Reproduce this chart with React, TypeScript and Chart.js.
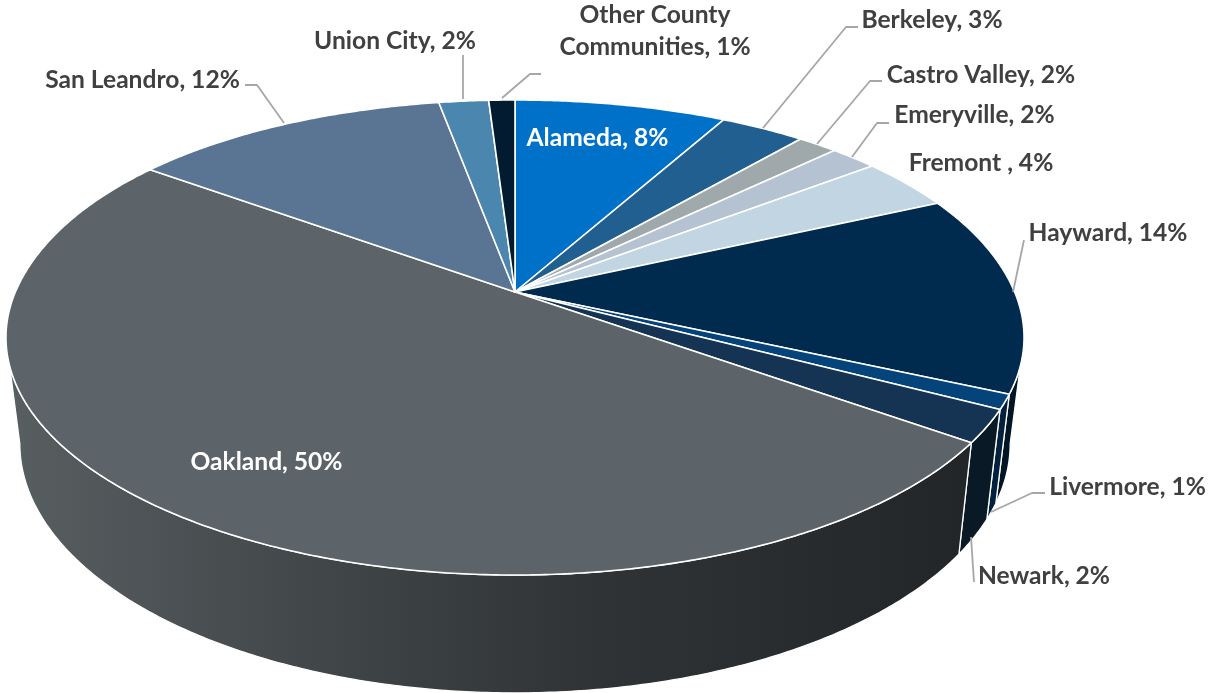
import React, { useEffect, useRef } from "react";
import { Chart, registerables } from "chart.js";

Chart.register(...registerables);

// ---- data ----
const categories = [
  "Alameda", "Berkeley", "Castro Valley", "Emeryville", "Fremont ", "Hayward",
  "Livermore", "Newark", "Oakland", "San Leandro", "Union City", "Other County Communities",
];
const shares = [8.07, 3.2, 1.5, 1.8, 3.6, 13.6, 1.0, 2.2, 50.15, 12.05, 1.9, 1.0];
const shownPercents = ["8%", "3%", "2%", "2%", "4%", "14%", "1%", "2%", "50%", "12%", "2%", "1%"];
const topColors = [
  "#0071C8", "#215F91", "#9FA8AB", "#B5C2D2", "#C2D5E2", "#002A4E",
  "#04447A", "#153352", "#5D6469", "#5A7493", "#4A86AE", "#021B30",
];
const wallColors = [
  "#00508F", "#174468", "#6F777A", "#7F8996", "#8A98A2", "#021525",
  "#03213F", "#091A26", "", "#40536A", "#34607D", "#01121F",
];

// ---- styling / layout ----
const W = 1208;
const H = 693;
const FONT = 'bold 24.6px Lato, "Noto Sans", sans-serif';
const TEXT = "#404040";
const LEADER = "#A6A6A6";
const P = 0.1916;
const CX = 515;
const TOP = { cy: 292, a: 499.6, b: 228.8, bulge: 0.009 };
const BOTTOM = { cy: 396, a: 486, b: 240, bulge: 0 };

// [centre x, centre y, colour] per category
const labelSpots: [number, number, string][] = [
  [597.5, 138, "#FFFFFF"], [932, 20, TEXT], [981, 75, TEXT], [974.5, 115, TEXT],
  [981, 163, TEXT], [1108, 233, TEXT], [1127.5, 487, TEXT], [1044, 576, TEXT],
  [266.5, 462, "#FFFFFF"], [142.5, 80, TEXT], [395, 41, TEXT], [655, 31, TEXT],
];
const leaders: number[][][] = [
  [], [[763, 128], [846, 27], [858, 27]], [[817, 144], [870, 81], [882, 81]],
  [[852, 157], [877, 123], [889, 123]], [], [[1013, 292], [1024, 240]],
  [[991, 512], [1032, 493], [1045, 493]], [[971, 537], [974, 582]], [],
  [[284, 123], [257, 85], [245, 85]], [[463, 99], [463, 55]], [[502, 98], [530, 74], [541, 74]],
];

type Disc = { cy: number; a: number; b: number; bulge: number };
const project = (d: Disc, ang: number): [number, number] => {
  const s2 = Math.sin(2 * ang);
  const r = Math.sin(ang) < 0 ? 1 + d.bulge * s2 * s2 : 1;
  const u = r * Math.cos(ang);
  const v = r * Math.sin(ang);
  const w = 1 - P * v;
  return [CX + (d.a * u) / w, d.cy + (d.b * v) / w];
};
const STEP = Math.PI / 360;
const arcPoints = (d: Disc, from: number, to: number) => {
  const pts: [number, number][] = [];
  const n = Math.max(1, Math.ceil((to - from) / STEP));
  for (let i = 0; i <= n; i++) pts.push(project(d, from + ((to - from) * i) / n));
  return pts;
};

const pie3d = {
  id: "pie3d",
  beforeDatasetsDraw(chart: any) {
    const ctx: CanvasRenderingContext2D = chart.ctx;
    const arcs = chart.getDatasetMeta(0).data;
    ctx.save();
    ctx.lineJoin = "round";

    // side walls, only the part facing the viewer
    const visFrom = Math.asin(P);
    const visTo = Math.PI - visFrom;
    const sheet = ctx.createLinearGradient(6, 0, 960, 0);
    sheet.addColorStop(0, "#585F61");
    sheet.addColorStop(0.3, "#43484B");
    sheet.addColorStop(0.6, "#303436");
    sheet.addColorStop(1, "#232628");
    arcs.forEach((arc: any, i: number) => {
      const spans = [
        [arc.startAngle, arc.endAngle],
        [arc.startAngle - 2 * Math.PI, arc.endAngle - 2 * Math.PI],
      ];
      spans.forEach(([s, e]) => {
        const from = Math.max(s, visFrom);
        const to = Math.min(e, visTo);
        if (to <= from) return;
        const a = arcPoints(TOP, from, to);
        const b = arcPoints(BOTTOM, from, to).reverse();
        ctx.beginPath();
        [...a, ...b].forEach(([x, y], k) => (k ? ctx.lineTo(x, y) : ctx.moveTo(x, y)));
        ctx.closePath();
        ctx.fillStyle = wallColors[i] || sheet;
        ctx.fill();
        ctx.strokeStyle = "#FFFFFF";
        ctx.lineWidth = 1.3;
        ctx.stroke();
      });
    });

    // top face
    arcs.forEach((arc: any, i: number) => {
      ctx.beginPath();
      ctx.moveTo(CX, TOP.cy);
      arcPoints(TOP, arc.startAngle, arc.endAngle).forEach(([x, y]) => ctx.lineTo(x, y));
      ctx.closePath();
      ctx.fillStyle = topColors[i];
      ctx.fill();
      ctx.strokeStyle = "#FFFFFF";
      ctx.lineWidth = 1.6;
      ctx.stroke();
    });

    // leader lines
    ctx.strokeStyle = LEADER;
    ctx.lineWidth = 1.8;
    leaders.forEach((line) => {
      if (!line.length) return;
      ctx.beginPath();
      line.forEach(([x, y], k) => (k ? ctx.lineTo(x, y) : ctx.moveTo(x, y)));
      ctx.stroke();
    });

    // data labels
    ctx.font = FONT;
    ctx.textAlign = "center";
    ctx.textBaseline = "middle";
    categories.forEach((name, i) => {
      const [x, y, color] = labelSpots[i];
      ctx.fillStyle = color;
      const text = `${name}, ${shownPercents[i]}`;
      if (name.startsWith("Other County")) {
        ctx.fillText("Other County", x, y - 16);
        ctx.fillText(`Communities, ${shownPercents[i]}`, x, y + 16);
      } else {
        ctx.fillText(text, x, y);
      }
    });
    ctx.restore();
    return false;
  },
};

export default function App() {
  const ref = useRef<HTMLCanvasElement>(null);
  useEffect(() => {
    document.body.style.margin = "0";
    document.body.style.background = "#FFFFFF";
    const chart = new Chart(ref.current!, {
      type: "pie",
      data: {
        labels: categories,
        datasets: [{ data: shares, backgroundColor: topColors, borderColor: "#FFFFFF" }],
      },
      options: {
        animation: false,
        responsive: false,
        plugins: { legend: { display: false }, tooltip: { enabled: false } },
      },
      plugins: [pie3d],
    } as any);
    return () => chart.destroy();
  }, []);
  return (
    <div style={{ width: W, height: H, overflow: "hidden" }}>
      <canvas ref={ref} width={W} height={H} style={{ display: "block" }} />
    </div>
  );
}
